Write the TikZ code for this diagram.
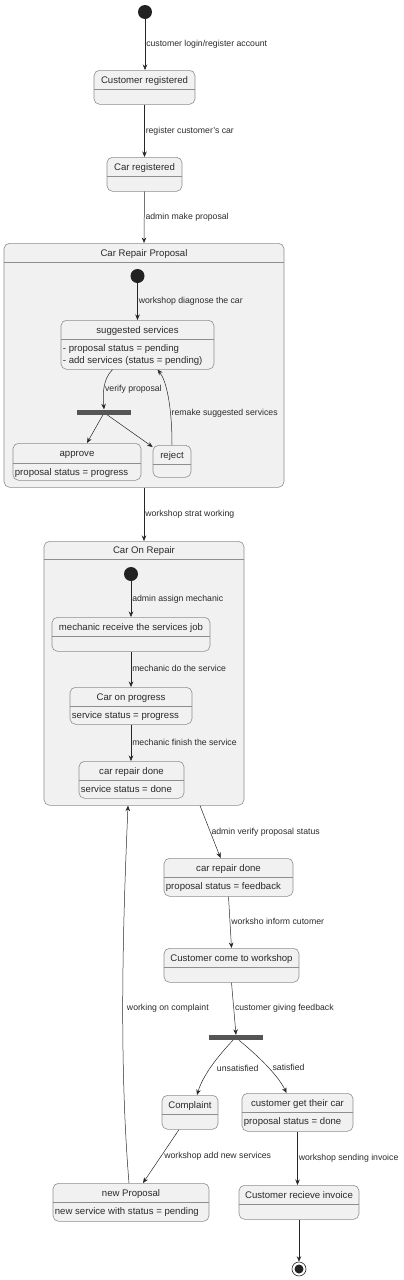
\documentclass[tikz,border=0pt]{standalone}
\usepackage{fontspec}
\setmainfont{Liberation Sans}
\usetikzlibrary{arrows.meta}
\definecolor{state fill}{HTML}{F1F1F1}
\definecolor{state line}{HTML}{8E8E8E}
\definecolor{bar grey}{HTML}{555555}
\definecolor{dot black}{HTML}{222222}
\definecolor{text grey}{HTML}{2A2A2A}

\tikzset{
    state box/.style = {draw = state line, fill = state fill, rounded corners = 5.5, line width = 0.6pt, inner sep = 0},
    state title/.style = {font = \fontsize{9.6}{12}\selectfont, text = text grey, inner sep = 0, text height = 6.9, text depth = 2},
    state body/.style = {font = \fontsize{9.6}{12}\selectfont, text = text grey, align = left, anchor = north west, inner sep = 0},
    edge label/.style = {font = \fontsize{8.7}{10}\selectfont, text = text grey, anchor = west, inner sep = 1, text height = 6.3, text depth = 1.8},
    flow/.style = {draw = black!85, line width = 0.5pt, -{Stealth[length = 5.5pt, width = 4.5pt, inset = 1.8pt]}},
    start dot/.style = {circle, fill = dot black, minimum size = 14, inner sep = 0},
    end ring/.style = {circle, draw = black!85, fill = white, line width = 0.6pt, minimum size = 14, inner sep = 0},
    fork bar/.style = {fill = bar grey, minimum width = 54, minimum height = 5, inner sep = 0},
}

% name, centre x, top y, width, height, header height, title, body
\newcommand{\umlstate}[8]{%
    \node [state box, anchor = north, minimum width = #4, minimum height = #5] (#1) at (#2, #3) {};
    \draw [state line, line width = 0.6pt] ([yshift = -#6]#1.north west) -- ([yshift = -#6]#1.north east);
    \node [state title] at ([yshift = -#6/2 - 1.5]#1.north) {#7};
    \node [state body] at ([xshift = 2, yshift = -#6 - 5.5]#1.north west) {#8};
}

\begin{document}
\begin{tikzpicture}[x = 1pt, y = 1pt]
    \useasboundingbox (0, 0) rectangle (404, -1280);

    \umlstate{crp}{144}{-243}{280}{244}{19}{Car Repair Proposal}{}
    \umlstate{cor}{144}{-541}{200}{264}{18}{Car On Repair}{}

    \node [start dot] (s0) at (145, -12) {};
    \umlstate{creg}{144.5}{-70}{101}{34}{19}{Customer registered}{}
    \umlstate{carreg}{144.5}{-157}{75}{34}{19}{Car registered}{}

    \node [start dot] (s1) at (137.5, -276) {};
    \umlstate{ss}{137.5}{-320}{153}{49}{19}{suggested services}{- proposal status = pending\\- add services (status = pending)}
    \node [fork bar] (f1) at (104, -412) {};
    \umlstate{approve}{77}{-443}{128}{37}{20}{approve}{proposal status = progress}
    \umlstate{reject}{172}{-445}{38}{32}{19}{reject}{}

    \node [start dot] (s2) at (131, -574) {};
    \umlstate{mrecv}{131}{-617}{158}{34}{19}{mechanic receive the services job}{}
    \umlstate{cprog}{131}{-687}{122}{37}{19}{Car on progress}{service status = progress}
    \umlstate{crdone}{131.5}{-761}{105}{37}{19}{car repair done}{service status = done}

    \umlstate{crdtwo}{228.5}{-858}{129}{38}{19}{car repair done}{proposal status = feedback}
    \umlstate{ccome}{231.5}{-948}{135}{34}{19}{Customer come to workshop}{}
    \node [fork bar] (f2) at (236, -1037.5) {};
    \umlstate{compl}{190}{-1095}{56}{34}{19}{Complaint}{}
    \umlstate{cgcar}{297.5}{-1093}{111}{38}{19}{customer get their car}{proposal status = done}
    \umlstate{nprop}{131}{-1183}{156}{38}{19}{new Proposal}{new service with status = pending}
    \umlstate{cinv}{299}{-1185}{120}{34}{19}{Customer recieve invoice}{}
    \node [end ring] (end) at (299, -1269) {};
    \fill [dot black] (end.center) circle (4.5);

    \draw [flow] (s0) -- node [edge label] {customer login/register account} (s0 |- creg.north);
    \draw [flow] (creg.south) -- node [edge label] {register customer's car} (carreg.north);
    \draw [flow] (carreg.south) -- node [edge label] {admin make proposal} (crp.north);

    \draw [flow] (s1) -- node [edge label] {workshop diagnose the car} (s1 |- ss.north);
    \draw [flow] ([xshift = -25]ss.south) .. controls (102, -380) and (103, -396) .. (f1.north) node [edge label, pos = 0.52] {verify proposal};
    \draw [flow] ([xshift = -1]f1.south) -- ([xshift = 10]approve.north);
    \draw [flow] ([xshift = 3]f1.south) -- ([yshift = -2]reject.north west);
    \draw [flow] (reject.north) .. controls (172, -405) and (166, -380) .. ([xshift = 20]ss.south) node [edge label, pos = 0.3] {remake suggested services};

    \draw [flow] (crp.south) -- node [edge label] {workshop strat working} (cor.north);
    \draw [flow] (s2) -- node [edge label] {admin assign mechanic} (s2 |- mrecv.north);
    \draw [flow] (mrecv.south) -- node [edge label] {mechanic do the service} (cprog.north);
    \draw [flow] (cprog.south) -- node [edge label] {mechanic finish the service} (cprog.south |- crdone.north);

    \draw [flow] ([xshift = 56]cor.south) -- node [edge label] {admin verify proposal status} ([xshift = -8]crdtwo.north);
    \draw [flow] (crdtwo.south) -- node [edge label] {worksho inform cutomer} (ccome.north);
    \draw [flow] (ccome.south) -- node [edge label] {customer giving feedback} (f2.north);
    \draw [flow] ([xshift = -3]f2.south) .. controls (218, -1056) and (203, -1075) .. ([xshift = 7]compl.north) node [edge label, pos = 0.55, xshift = 6] {unsatisfied};
    \draw [flow] ([xshift = 3]f2.south) .. controls (257, -1055) and (278, -1075) .. ([xshift = -11]cgcar.north) node [edge label, pos = 0.56, xshift = 2] {satisfied};
    \draw [flow] ([xshift = -11]compl.south) -- node [edge label, xshift = 2] {workshop add new services} ([xshift = 12]nprop.north);
    \draw [flow] ([xshift = -2]nprop.north) .. controls (118, -1050) and (124, -900) .. ([xshift = -16]cor.south) node [edge label, pos = 0.43, xshift = 3] {working on complaint};
    \draw [flow] (cgcar.south) -- node [edge label] {workshop sending invoice} (cgcar.south |- cinv.north);
    \draw [flow] (cinv.south) -- (end);
\end{tikzpicture}
\end{document}
